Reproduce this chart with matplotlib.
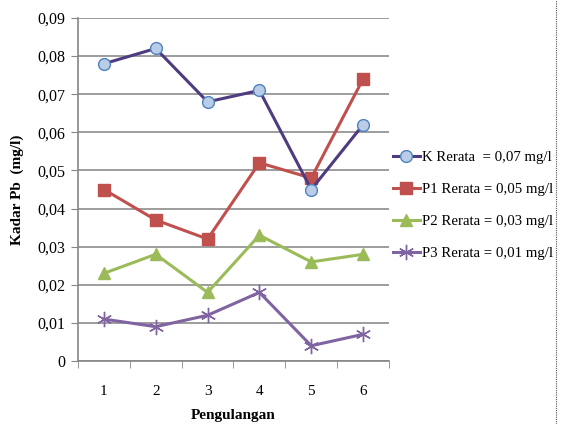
import numpy as np
import matplotlib
matplotlib.use('Agg')
import matplotlib.pyplot as plt
from matplotlib.lines import Line2D

# Kadar Pb per pengulangan (mg/l)
pengulangan = ['1', '2', '3', '4', '5', '6']
k_vals  = [0.078, 0.082, 0.068, 0.071, 0.045, 0.062]
p1_vals = [0.045, 0.037, 0.032, 0.052, 0.048, 0.074]
p2_vals = [0.023, 0.028, 0.018, 0.033, 0.026, 0.028]
p3_vals = [0.011, 0.009, 0.012, 0.018, 0.004, 0.007]
labels = ['K Rerata  = 0,07 mg/l', 'P1 Rerata = 0,05 mg/l',
          'P2 Rerata = 0,03 mg/l', 'P3 Rerata = 0,01 mg/l']
y_ticks = [0, 0.01, 0.02, 0.03, 0.04, 0.05, 0.06, 0.07, 0.08, 0.09]

plt.rcParams['font.family'] = ['Liberation Serif', 'DejaVu Serif']

fig = plt.figure(figsize=(5.63, 4.24), dpi=100)
ax = fig.add_axes([78 / 563, 63 / 424, 311 / 563, 343 / 424])

x = np.arange(len(pengulangan))
lw = 2.2

ax.plot(x, k_vals, color='#4F3B7F', lw=lw, marker='o', ms=8.5,
        mfc='#B9CDE8', mec='#4F81BD', mew=1.0, label=labels[0], zorder=5)
ax.plot(x, p1_vals, color='#C0504D', lw=lw, marker='s', ms=8,
        mfc='#C0504D', mec='#C0504D', label=labels[1], zorder=4)
ax.plot(x, p2_vals, color='#9BBB59', lw=lw, marker='^', ms=8,
        mfc='#9BBB59', mec='#9BBB59', label=labels[2], zorder=3)
ax.plot(x, p3_vals, color='#8064A2', lw=lw, marker=(6, 2, 0), ms=11,
        mec='#8064A2', mew=1.0, label=labels[3], zorder=2)

ax.set_xlim(-0.5, 5.5)
ax.set_ylim(0, 0.09)
ax.set_yticks(y_ticks)
ax.set_yticklabels(['0' if v == 0 else f'{v:.2f}'.replace('.', ',') for v in y_ticks])
ax.set_xticks(x)
ax.set_xticklabels(pengulangan)
ax.set_xticks(np.arange(-0.5, 6.0, 1.0), minor=True)
ax.tick_params(axis='x', which='major', length=0, pad=17, labelsize=11)
ax.tick_params(axis='x', which='minor', length=5, color='#868686')
ax.tick_params(axis='y', length=5, color='#868686', labelsize=11.5, pad=4)

ax.grid(axis='y', color='#8C8C8C', lw=1.2)
ax.set_axisbelow(True)
for s in ['top', 'right']:
    ax.spines[s].set_visible(False)
ax.spines['left'].set_color('#868686')
ax.spines['bottom'].set_color('#868686')
ax.spines['left'].set_linewidth(1.2)
ax.spines['bottom'].set_linewidth(1.2)

ax.set_xlabel('Pengulangan', fontsize=11, fontweight='bold', labelpad=8)
ax.set_ylabel('Kadar Pb  (mg/l)', fontsize=11, fontweight='bold', labelpad=10)

fig.legend(loc='upper left', bbox_to_anchor=(393 / 563, 1 - 151 / 424),
           frameon=False, fontsize=10.7, handlelength=1.8, handletextpad=0.15,
           labelspacing=1.25, borderaxespad=0, borderpad=0)

# garis titik-titik di tepi kanan
fig.add_artist(Line2D([556 / 563, 556 / 563], [0, 1], transform=fig.transFigure,
                      color='#555555', lw=0.8, ls=(0, (1, 1))))

fig.savefig('out.png', dpi=100)
